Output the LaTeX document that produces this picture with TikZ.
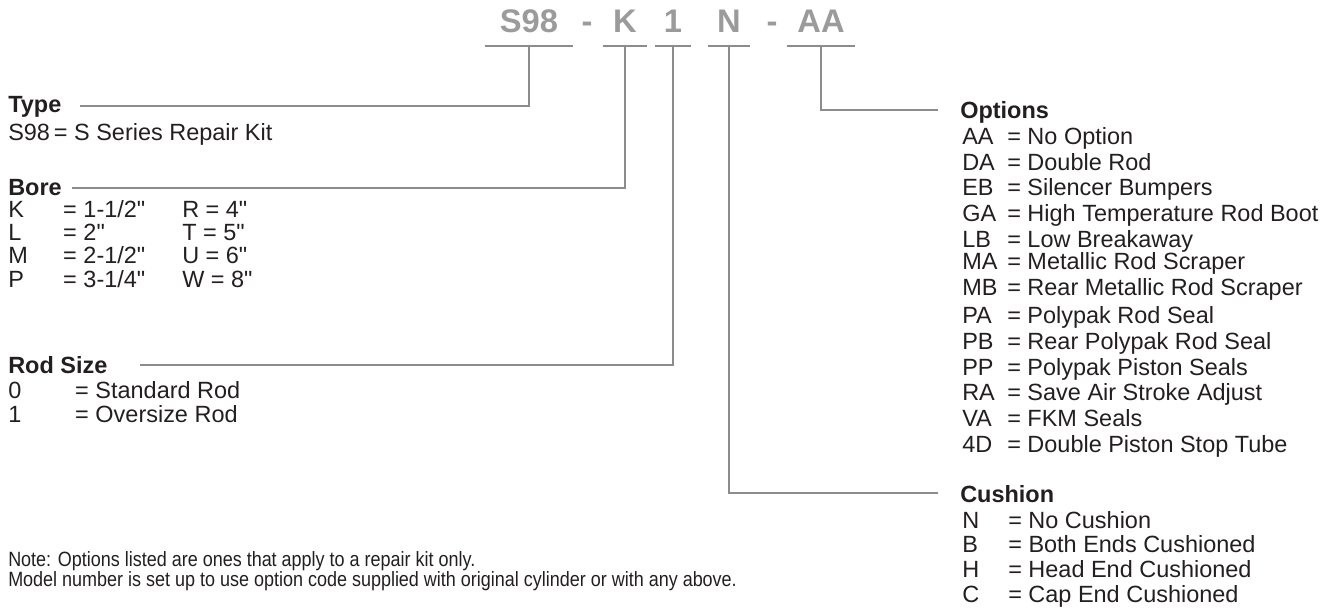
\documentclass[tikz,border=0pt]{standalone}
\usepackage{fontspec}
\setmainfont{Liberation Sans}[Ligatures=TeXOff]
\newfontfamily\notefont[FakeStretch=0.87]{Liberation Sans}
\usepackage{xcolor}
\usepackage{tikz}
\usetikzlibrary{positioning,calc}
\definecolor{codegray}{RGB}{155,155,155}
\definecolor{leadgray}{RGB}{140,140,140}
\definecolor{ink}{RGB}{35,31,32}
\newcommand{\keyrow}[3][33.75pt]{\makebox[#1][l]{#2}= #3}

\begin{document}
\begin{tikzpicture}[
    x=0.75pt, y=-0.75pt,
    codeletter/.style={anchor=south, inner sep=0pt, text depth=9.75pt, font=\fontsize{24.5}{26}\selectfont\bfseries, text=codegray},
    uline/.style={draw=leadgray, line width=1.3pt},
    lead/.style={draw=leadgray, line width=0.8pt},
    header/.style={anchor=base west, inner sep=0pt, font=\fontsize{17.6}{19}\selectfont\bfseries, text=ink},
    listtext/.style={anchor=base west, inner sep=0pt, align=left, text=ink},
    notetext/.style={anchor=base west, inner sep=0pt, align=left, font=\notefont\fontsize{15.5}{15}\selectfont, text=ink},
]
\useasboundingbox (0,0) rectangle (1333,610);

% === MODEL CODE ===
\node[codeletter, minimum width=66pt] (cS98) at (529,46) {S98};
\node[codeletter] (dashA) at (587,46) {-};
\node[codeletter, minimum width=33pt] (cK) at (625,46) {K};
\node[codeletter, minimum width=26.25pt] (cOne) at (673,46) {1};
\node[codeletter, minimum width=31.5pt] (cN) at (729,46) {N};
\node[codeletter] (dashB) at (772,46) {-};
\node[codeletter, minimum width=51pt] (cAA) at (821,46) {AA};

\draw[uline] (cS98.south west) -- (cS98.south east);
\draw[uline] (cK.south west) -- (cK.south east);
\draw[uline] (cOne.south west) -- (cOne.south east);
\draw[uline] (cN.south west) -- (cN.south east);
\draw[uline] (cAA.south west) -- (cAA.south east);

% === LEFT COLUMN ===
% (lists sit on the baseline of their last line)
\node[header] (type) at (8,112) {Type};
\node[listtext, font=\fontsize{17.6}{19}\selectfont] (typeList) at ([yshift=-21pt]type.base west) {S98\,= S Series Repair Kit};

\node[header] (bore) at (8,195) {Bore};
\node[listtext, font=\fontsize{17.6}{17.5}\selectfont] (boreList) at ([yshift=-69pt]bore.base west)
    {\makebox[130.5pt][l]{\keyrow[41.25pt]{K}{1-1/2"}}R = 4"\\
     \makebox[130.5pt][l]{\keyrow[41.25pt]{L}{2"}}T = 5"\\
     \makebox[130.5pt][l]{\keyrow[41.25pt]{M}{2-1/2"}}U = 6"\\
     \makebox[130.5pt][l]{\keyrow[41.25pt]{P}{3-1/4"}}W = 8"};

\node[header] (rod) at (8,373) {Rod Size};
\node[listtext, font=\fontsize{17.6}{18}\selectfont] (rodList) at ([yshift=-36.75pt]rod.base west)
    {\keyrow[50.25pt]{0}{Standard Rod}\\
     \keyrow[50.25pt]{1}{Oversize Rod}};

% === RIGHT COLUMN ===
\node[header] (options) at (960,118) {Options};
\node[listtext, font=\fontsize{17.6}{19.25}\selectfont] (optList) at ([xshift=1.5pt, yshift=-250.5pt]options.base west)
    {\keyrow{AA}{No Option}\\
     \keyrow{DA}{Double Rod}\\
     \keyrow{EB}{Silencer Bumpers}\\
     \keyrow{GA}{High Temperature Rod Boot}\\
     \keyrow{LB}{Low Breakaway}\\[-2.2pt]
     \keyrow{MA}{Metallic Rod Scraper}\\
     \keyrow{MB}{Rear Metallic Rod Scraper}\\[1.8pt]
     \keyrow{PA}{Polypak Rod Seal}\\
     \keyrow{PB}{Rear Polypak Rod Seal}\\
     \keyrow{PP}{Polypak Piston Seals}\\
     \keyrow{RA}{Save Air Stroke Adjust}\\
     \keyrow{VA}{FKM Seals}\\
     \keyrow{4D}{Double Piston Stop Tube}};

\node[header] (cushion) at (960,502) {Cushion};
\node[listtext, font=\fontsize{17.6}{18.5}\selectfont] (cushList) at ([xshift=1.5pt, yshift=-75pt]cushion.base west)
    {\keyrow[34.5pt]{N}{No Cushion}\\
     \keyrow[34.5pt]{B}{Both Ends Cushioned}\\
     \keyrow[34.5pt]{H}{Head End Cushioned}\\
     \keyrow[34.5pt]{C}{Cap End Cushioned}};

% === NOTE ===
\node[notetext] (note) at (8,586) {Note: Options listed are ones that apply to a repair kit only.\\Model number is set up to use option code supplied with original cylinder or with any above.};

% === LEADERS ===
\coordinate (typeTip) at (80,106);
\coordinate (boreTip) at (72,188);
\coordinate (rodTip) at (140,365);
\coordinate (optTip) at (938,110);
\coordinate (cushTip) at (938,493);

\draw[lead] (cS98.south) |- (typeTip);
\draw[lead] (cK.south) |- (boreTip);
\draw[lead] (cOne.south) |- (rodTip);
\draw[lead] (cAA.south) |- (optTip);
\draw[lead] (cN.south) |- (cushTip);

\end{tikzpicture}
\end{document}
